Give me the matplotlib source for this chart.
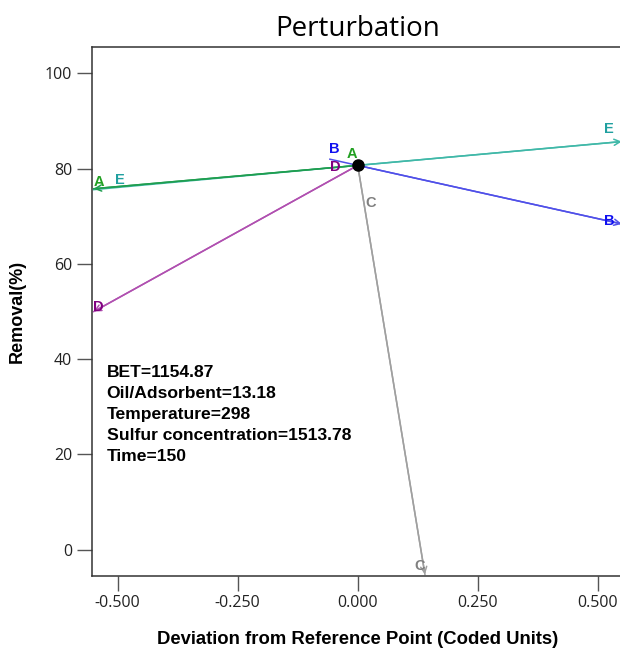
import numpy as np
import matplotlib
matplotlib.use("Agg")
import matplotlib.pyplot as plt

# perturbation traces: deviation from reference point (coded) vs removal (%)
# each trace runs from the reference side out to its far end
ref_x, ref_y = 0.0, 80.7

a_dev = [0.0, -0.55]
a_rem = [80.7, 75.8]
b_dev = [-0.058, 0.0, 0.55]
b_rem = [82.0, 80.7, 68.4]
c_dev = [0.0, 0.14]
c_rem = [80.7, -5.2]
d_dev = [0.0, -0.55]
d_rem = [80.7, 50.0]
e_dev = [-0.55, 0.0, 0.55]
e_rem = [75.6, 80.7, 85.7]

factor_info = [
    "BET=1154.87",
    "Oil/Adsorbent=13.18",
    "Temperature=298",
    "Sulfur concentration=1513.78",
    "Time=150",
]

x_ticks = [-0.5, -0.25, 0.0, 0.25, 0.5]
y_ticks = [0, 20, 40, 60, 80, 100]

# name, x, y, line colour, label colour, start label offset, end label offset
traces = [
    ("E", e_dev, e_rem, "#40b8a8", "#20a0a0", (19, 7), (-9, 9)),
    ("A", a_dev, a_rem, "#1f9e50", "#22a022", (-4, 8), (3.5, 5)),
    ("B", b_dev, b_rem, "#5050e8", "#1010f0", (3, 7), (-9, 2)),
    ("C", c_dev, c_rem, "#a0a0a0", "#808080", (9, -27), (-4, 6)),
    ("D", d_dev, d_rem, "#b050b0", "#800080", (-16, -1), (3, 3)),
]

fig = plt.figure(figsize=(6.2, 6.5), dpi=100)
ax = fig.add_axes([0.148, 0.114, 0.858, 0.814])

for name, xs, ys, lc, tc, start_off, end_off in traces:
    ax.plot(xs, ys, color=lc, lw=1.1, zorder=2)
    # open arrowhead at the far end of each trace
    ax.annotate("", xy=(xs[-1], ys[-1]), xytext=(xs[-2], ys[-2]),
                arrowprops=dict(arrowstyle="->", color=lc, lw=1.1,
                                mutation_scale=11, shrinkA=0, shrinkB=0))
    lab = dict(color=tc, fontsize=10.5, fontweight="bold", ha="center",
               va="center", family="Liberation Sans", textcoords="offset points")
    ax.annotate(name, xy=(xs[0], ys[0]), xytext=start_off, **lab)
    ax.annotate(name, xy=(xs[-1], ys[-1]), xytext=end_off, **lab)

ax.plot([ref_x], [ref_y], "o", color="black", ms=8, zorder=5)

ax.text(0.028, 0.398, "\n".join(factor_info), transform=ax.transAxes,
        fontsize=12.6, fontweight="bold", family="Liberation Sans",
        va="top", ha="left", linespacing=1.5)

ax.set_xlim(-0.554, 0.554)
ax.set_ylim(-5.5, 105.6)
ax.set_xticks(x_ticks)
ax.set_xticklabels([f"{v:.3f}" for v in x_ticks])
ax.set_yticks(y_ticks)
ax.tick_params(direction="out", length=11, width=1, color="#555555",
               labelsize=11.5, pad=3)
for lbl in ax.get_xticklabels() + ax.get_yticklabels():
    lbl.set_family("Open Sans")
    lbl.set_color("#222222")
ax.spines["right"].set_visible(False)
for s in ("left", "top", "bottom"):
    ax.spines[s].set_color("#333333")
    ax.spines[s].set_linewidth(1.1)

ax.set_title("Perturbation", fontsize=20, family="Open Sans", pad=8)
ax.set_xlabel("Deviation from Reference Point (Coded Units)", fontsize=13.3,
              fontweight="heavy", family="Liberation Sans", labelpad=14)
ax.set_ylabel("Removal(%)", fontsize=13, fontweight="bold",
              family="Liberation Sans", labelpad=14)

fig.savefig("out.png", dpi=100)
